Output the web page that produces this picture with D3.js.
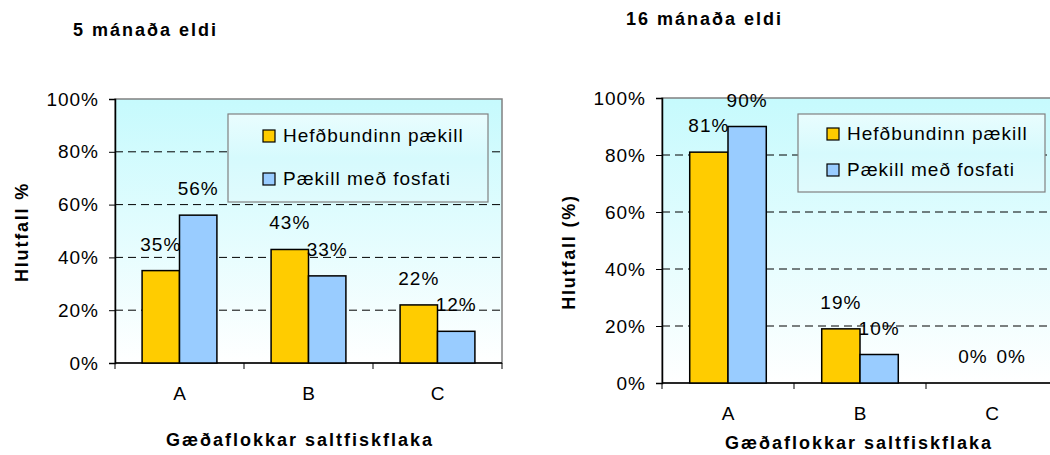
<!DOCTYPE html>
<html lang="is">
<head>
<meta charset="utf-8">
<title>Gæðaflokkar saltfiskflaka</title>
<script src="https://cdn.jsdelivr.net/npm/d3@7"></script>
<style>
  body { margin: 0; background: #fff; }
  svg text { font-family: "Liberation Sans", Arial, sans-serif; fill: #000; }
</style>
</head>
<body>
<script>
// data
var categories = ["A", "B", "C"];
var seriesNames = ["Hefðbundinn pækill", "Pækill með fosfati"];
var seriesColors = ["#FFCC00", "#99CCFF"];
var yTicks = [0, 20, 40, 60, 80, 100];

var fiveTrad = [35, 43, 22];
var fivePhos = [56, 33, 12];
var sixteenTrad = [81, 19, 0];
var sixteenPhos = [90, 10, 0];

var width = 1050, height = 455;

var svg = d3.select("body").append("svg")
    .attr("width", width)
    .attr("height", height);

// plot-area gradient (cyan at top fading to white)
var defs = svg.append("defs");
var g1 = defs.append("linearGradient").attr("id", "plotbg")
    .attr("x1", 0).attr("y1", 0).attr("x2", 0).attr("y2", 1);
g1.append("stop").attr("offset", "0%").attr("stop-color", "#C6FAFD");
g1.append("stop").attr("offset", "100%").attr("stop-color", "#FFFFFF");
var g2 = defs.append("linearGradient").attr("id", "legbg")
    .attr("x1", 0).attr("y1", 0).attr("x2", 0).attr("y2", 1);
g2.append("stop").attr("offset", "0%").attr("stop-color", "#E9FDFE");
g2.append("stop").attr("offset", "50%").attr("stop-color", "#D6FAFD");
g2.append("stop").attr("offset", "100%").attr("stop-color", "#E0FBFD");

function drawPanel(p) {
  var series = [p.trad, p.phos];

  var x = d3.scaleBand().domain(categories).range([p.left, p.right]).padding(0);
  var gap = x.bandwidth() * 0.21;
  var xs = d3.scaleBand().domain([0, 1]).range([gap, x.bandwidth() - gap]).padding(0);
  var y = d3.scaleLinear().domain([0, 100]).range([p.bottom, p.top]);

  var g = svg.append("g");

  // background + border
  g.append("rect")
      .attr("x", p.left).attr("y", p.top)
      .attr("width", p.right - p.left).attr("height", p.bottom - p.top)
      .attr("fill", "url(#plotbg)")
      .attr("stroke", "#808080").attr("stroke-width", 1.5);

  // dashed gridlines
  g.selectAll(".grid").data(yTicks.filter(function(d) { return d > 0 && d < 100; }))
    .enter().append("line")
      .attr("x1", p.left).attr("x2", p.right)
      .attr("y1", function(d) { return y(d); })
      .attr("y2", function(d) { return y(d); })
      .attr("stroke", "#000").attr("stroke-width", 1)
      .attr("stroke-dasharray", "8,5");

  // y axis
  var yAxis = g.append("g")
      .attr("transform", "translate(" + p.left + ",0)")
      .call(d3.axisLeft(y).tickValues(yTicks).tickSize(6).tickPadding(10)
        .tickFormat(function(d) { return d + "%"; }));
  yAxis.select(".domain").attr("stroke", "#000").attr("stroke-width", 1.5);
  yAxis.selectAll("text").attr("font-size", "19px").attr("letter-spacing", "1px")
      .attr("fill", "#000");

  // x axis: ticks at category boundaries
  g.append("line")
      .attr("x1", p.left).attr("x2", p.right)
      .attr("y1", p.bottom).attr("y2", p.bottom)
      .attr("stroke", "#000").attr("stroke-width", 1.5);
  var bounds = categories.map(function(c) { return x(c); }).concat([p.right]);
  g.selectAll(".xt").data(bounds).enter().append("line")
      .attr("x1", function(d) { return d; }).attr("x2", function(d) { return d; })
      .attr("y1", p.bottom).attr("y2", p.bottom + 6)
      .attr("stroke", "#000").attr("stroke-width", 1);
  g.selectAll(".xl").data(categories).enter().append("text")
      .attr("x", function(d) { return x(d) + x.bandwidth() / 2; })
      .attr("y", p.bottom + 37)
      .attr("text-anchor", "middle")
      .attr("font-size", "19px")
      .text(function(d) { return d; });

  // bars + value labels
  series.forEach(function(vals, si) {
    g.selectAll(".bar" + si).data(vals).enter().append("rect")
        .attr("x", function(d, i) { return x(categories[i]) + xs(si); })
        .attr("y", function(d) { return y(d); })
        .attr("width", xs.bandwidth())
        .attr("height", function(d) { return y(0) - y(d); })
        .attr("fill", seriesColors[si])
        .attr("stroke", "#000")
        .attr("stroke-width", 1.5)
        .style("display", function(d) { return d > 0 ? null : "none"; });
  });
  series.forEach(function(vals, si) {
    g.selectAll(".lab" + si).data(vals).enter().append("text")
        .attr("x", function(d, i) { return x(categories[i]) + xs(si) + xs.bandwidth() / 2; })
        .attr("y", function(d) { return y(d) - 20; })
        .attr("text-anchor", "middle")
        .attr("font-size", "19px")
        .attr("letter-spacing", "1px")
        .text(function(d) { return d + "%"; });
  });

  // legend
  var lg = g.append("g");
  lg.append("rect")
      .attr("x", p.legX).attr("y", p.legY)
      .attr("width", p.legW).attr("height", p.legH)
      .attr("fill", "url(#legbg)")
      .attr("stroke", "#808080").attr("stroke-width", 1.2);
  seriesNames.forEach(function(name, i) {
    var ry = p.legRow0 + i * p.legStep;
    lg.append("rect")
        .attr("x", p.legX + p.swOff).attr("y", ry - 12)
        .attr("width", 12).attr("height", 12)
        .attr("fill", seriesColors[i])
        .attr("stroke", "#000").attr("stroke-width", 1.2);
    lg.append("text")
        .attr("x", p.legX + p.swOff + 20).attr("y", ry)
        .attr("font-size", "19px")
        .attr("letter-spacing", "1px")
        .text(name);
  });

  // titles
  svg.append("text")
      .attr("x", p.titleX).attr("y", p.titleY)
      .attr("font-size", "18px").attr("font-weight", "bold")
      .attr("letter-spacing", "2px")
      .text(p.title);
  svg.append("text")
      .attr("x", (p.left + p.xTitleCx)).attr("y", p.xTitleY)
      .attr("text-anchor", "middle")
      .attr("font-size", "18px").attr("font-weight", "bold")
      .attr("letter-spacing", "2px")
      .text("Gæðaflokkar saltfiskflaka");
  svg.append("text")
      .attr("transform", "translate(" + p.yTitleX + "," + p.yTitleY + ") rotate(-90)")
      .attr("text-anchor", "middle")
      .attr("font-size", "18px").attr("font-weight", "bold")
      .attr("letter-spacing", "1.8px")
      .text(p.yTitle);
}

drawPanel({
  trad: fiveTrad, phos: fivePhos,
  left: 115, right: 502, top: 99, bottom: 363,
  legX: 228, legY: 114, legW: 260, legH: 88, legRow0: 142, legStep: 43, swOff: 35,
  title: "5 mánaða eldi", titleX: 73, titleY: 36,
  xTitleCx: 185, xTitleY: 446,
  yTitle: "Hlutfall %", yTitleX: 28, yTitleY: 232
});

drawPanel({
  trad: sixteenTrad, phos: sixteenPhos,
  left: 662, right: 1058, top: 98, bottom: 383,
  legX: 798, legY: 114, legW: 247, legH: 78, legRow0: 140, legStep: 36, swOff: 29,
  title: "16 mánaða eldi", titleX: 626, titleY: 25,
  xTitleCx: 197, xTitleY: 449,
  yTitle: "Hlutfall (%)", yTitleX: 575, yTitleY: 252
});
</script>
</body>
</html>
